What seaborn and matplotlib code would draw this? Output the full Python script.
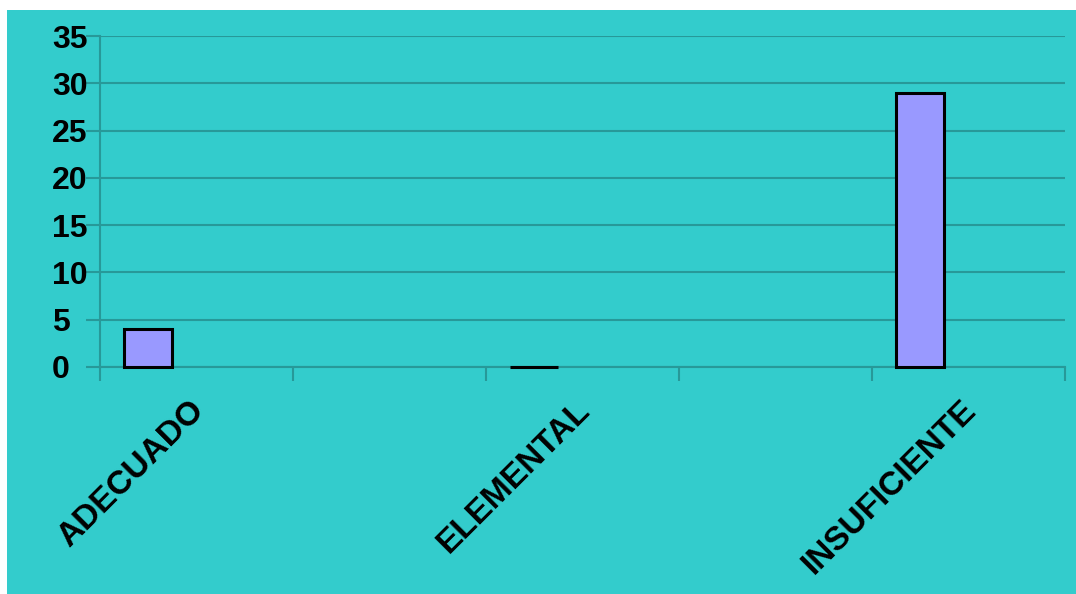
import matplotlib
matplotlib.use("Agg")
import matplotlib.pyplot as plt
from matplotlib.patches import Rectangle
from matplotlib.transforms import ScaledTranslation
import seaborn as sns
import pandas as pd

# data
categories = ["ADECUADO", "ELEMENTAL", "INSUFICIENTE"]
values = [4, 0, 29]
series = ["Serie 1", "Serie 1", "Serie 1"]
slot_order = ["ADECUADO", "", "ELEMENTAL", " ", "INSUFICIENTE"]
series_order = ["Serie 1", "Serie 2"]
y_ticks = [0, 5, 10, 15, 20, 25, 30, 35]

df = pd.DataFrame({"cat": categories, "val": values, "serie": series})

sns.set_theme(style="white")
plt.rcParams["font.family"] = ["Liberation Sans", "DejaVu Sans"]

TEAL = "#33CCCC"
GRID = "#279999"

fig = plt.figure(figsize=(10.76, 5.94), dpi=100, facecolor="white")
fig.patches.append(Rectangle((7 / 1076, 0), 1 - 7 / 1076, 1 - 10 / 594,
                             transform=fig.transFigure, facecolor=TEAL,
                             edgecolor="none", zorder=-10))
ax = fig.add_axes([100 / 1076, 1 - 367 / 594, (1065 - 100) / 1076, (367 - 36) / 594])
ax.set_facecolor(TEAL)

sns.barplot(data=df, x="cat", y="val", hue="serie", order=slot_order,
            hue_order=series_order,
            palette={"Serie 1": "#9999FF", "Serie 2": "#993366"},
            saturation=1, width=1.0, gap=0.5, dodge=True,
            edgecolor="black", linewidth=2.2,
            legend=False, ax=ax, zorder=3)
for p in ax.patches:
    p.set_clip_on(False)

ax.set_xlim(-0.5, len(slot_order) - 0.5)
ax.set_ylim(0, 35)
ax.set_yticks(y_ticks)
ax.set_yticklabels([str(t) for t in y_ticks], fontsize=23, fontweight="bold",
                   color="black", ha="left")
ax.yaxis.grid(True, color=GRID, linewidth=1.5)
ax.set_axisbelow(True)
ax.tick_params(axis="y", length=10, width=1.5, color=GRID, pad=24.6, left=True)

ax.set_xticks(range(len(slot_order)))
ax.set_xticklabels(slot_order, fontsize=24, fontweight="bold", color="black",
                   rotation=45, ha="right", rotation_mode="anchor")
ax.set_xticks([i - 0.5 for i in range(len(slot_order) + 1)], minor=True)
ax.tick_params(axis="x", which="major", length=0, pad=20)
ax.tick_params(axis="x", which="minor", length=10, width=1.5, color=GRID, bottom=True)
shift = ScaledTranslation(-8 / 100, 0, fig.dpi_scale_trans)
for lab in ax.get_xticklabels():
    lab.set_transform(lab.get_transform() + shift)

for s in ["top", "right"]:
    ax.spines[s].set_visible(False)
for s in ["left", "bottom"]:
    ax.spines[s].set_color(GRID)
    ax.spines[s].set_linewidth(1.5)

ax.set_xlabel("")
ax.set_ylabel("")

fig.savefig("out.png", dpi=100, facecolor=fig.get_facecolor())
